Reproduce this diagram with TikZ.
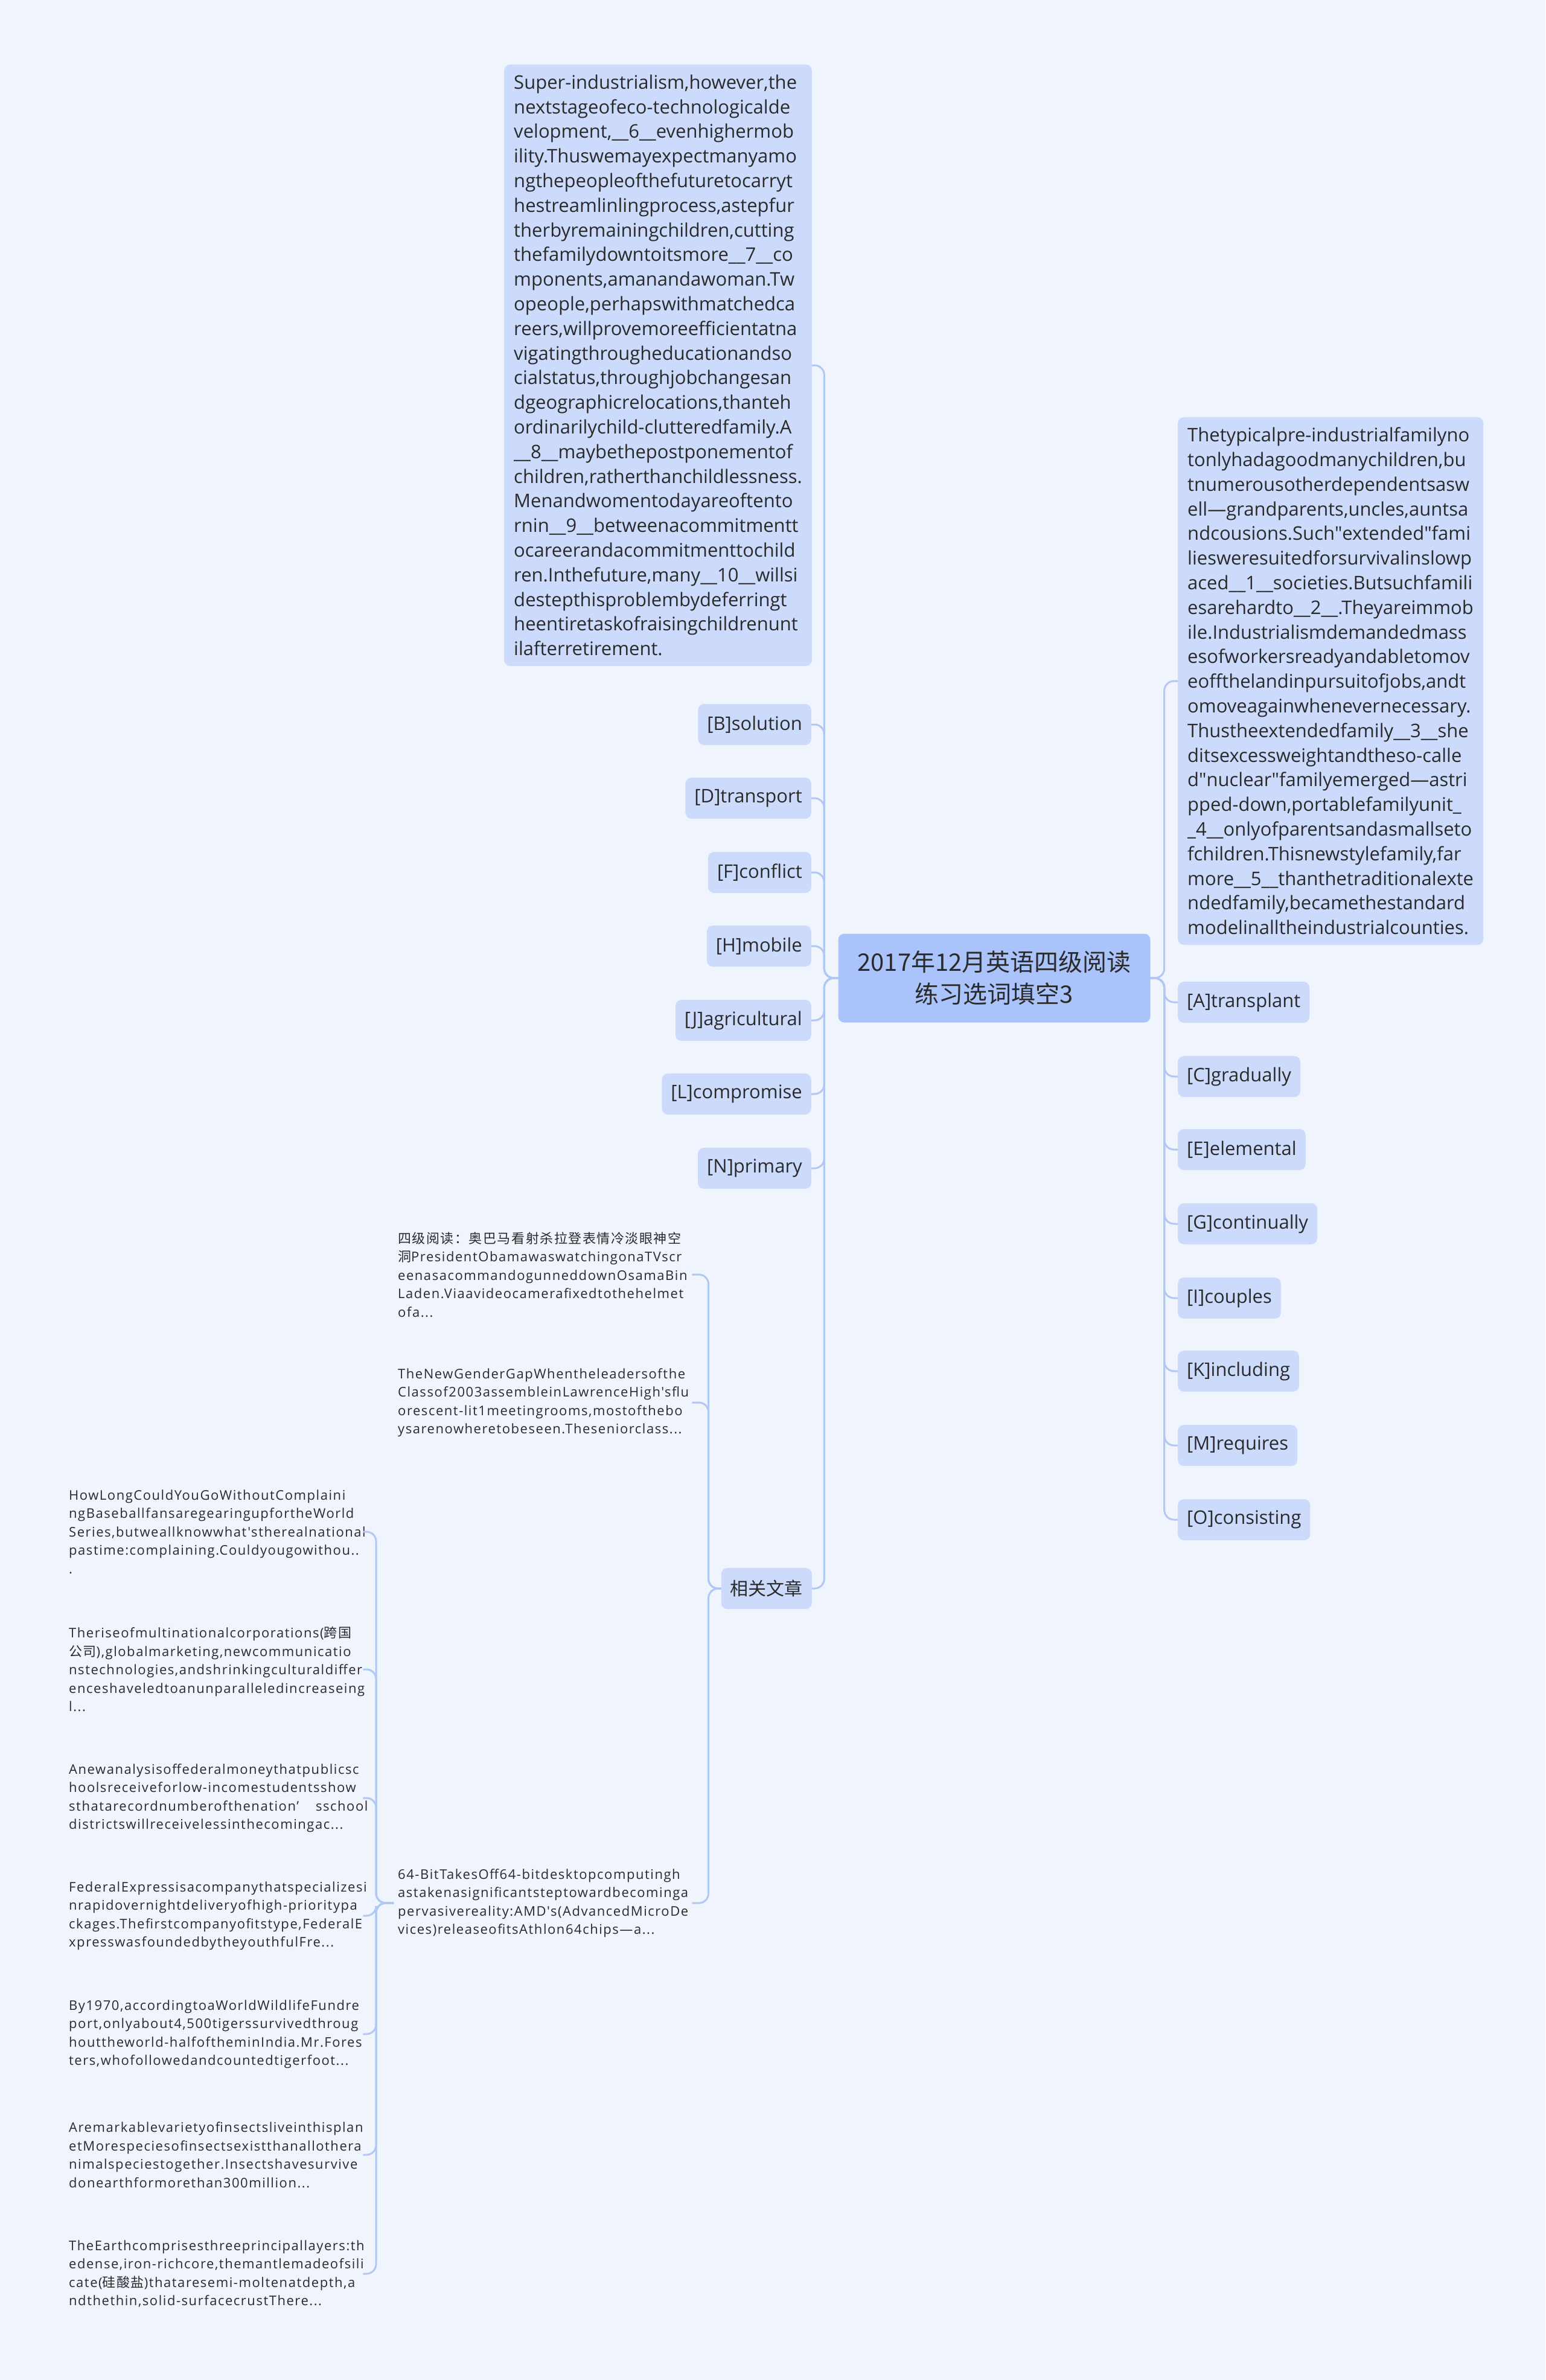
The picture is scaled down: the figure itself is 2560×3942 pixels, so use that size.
\documentclass[tikz,border=0pt]{standalone}
\usepackage{fontspec}
\setmainfont{Open Sans}
\newfontfamily\cjk{Noto Sans CJK SC}
\newfontfamily\artfont[LetterSpace=7]{Open Sans}
\newfontfamily\artcjk[LetterSpace=7]{Noto Sans CJK SC}
\newcommand{\zh}[1]{{\artcjk #1}}
\newcommand{\dq}{\XeTeXglyph\the\XeTeXcharglyph"22\relax}
\usetikzlibrary{positioning}

\definecolor{bgblue}{HTML}{EFF4FD}
\definecolor{rootblue}{HTML}{AAC4FB}
\definecolor{leafblue}{HTML}{CCDBFC}
\definecolor{linkblue}{HTML}{B1C7F4}
\definecolor{inkgray}{HTML}{2A2A2A}

\tikzset{
  root/.style={fill=rootblue, rounded corners=10pt, minimum width=517pt, minimum height=147pt, align=center, text=inkgray, font=\cjk\fontsize{40}{53}\selectfont},
  leaf/.style={fill=leafblue, rounded corners=10pt, inner xsep=15pt, inner ysep=0pt, minimum height=68pt, text=inkgray, font=\fontsize{31}{40}\selectfont},
  passage/.style={fill=leafblue, rounded corners=10pt, inner xsep=16pt, inner ysep=17pt, align=left, text=inkgray, font=\fontsize{31}{40.8}\selectfont},
  article/.style={inner sep=7pt, text width=480pt, align=left, text=inkgray, font=\artfont\fontsize{22}{30.5}\selectfont,
    execute at begin node={\hyphenpenalty=10000\exhyphenpenalty=10000}},
  link/.style={draw=linkblue, line width=3pt, rounded corners=16pt},
}

\begin{document}
\begin{tikzpicture}[x=1pt, y=-1pt]
  % background
  \fill[bgblue] (0,0) rectangle (2560,3942);
  \useasboundingbox (0,0) rectangle (2560,3942);

  % root
  \node[root] (root) at (1647,1620) {2017年12月英语四级阅读\\练习选词填空3};

  % left side
  \node[passage, anchor=east] (later) at (1345,605) {Super-industrialism,however,the\\nextstageofeco-technologicalde\\velopment,\_\_6\_\_evenhighermob\\ility.Thuswemayexpectmanyamo\\ngthepeopleofthefuturetocarryt\\hestreamlinlingprocess,astepfur\\therbyremainingchildren,cutting\\thefamilydowntoitsmore\_\_7\_\_co\\mponents,amanandawoman.Tw\\opeople,perhapswithmatchedca\\reers,willprovemoreefficientatna\\vigatingthrougheducationandso\\cialstatus,throughjobchangesan\\dgeographicrelocations,thanteh\\ordinarilychild-clutteredfamily.A\\\_\_8\_\_maybethepostponementof\\children,ratherthanchildlessness.\\Menandwomentodayareoftento\\rnin\_\_9\_\_betweenacommitmentt\\ocareerandacommitmenttochild\\ren.Inthefuture,many\_\_10\_\_willsi\\destepthisproblembydeferringt\\heentiretaskofraisingchildrenunt\\ilafterretirement.};
  \node[leaf, anchor=east] (optB) at (1344,1200) {[B]solution};
  \node[leaf, anchor=east] (optD) at (1344,1322) {[D]transport};
  \node[leaf, anchor=east] (optF) at (1344,1445) {[F]conflict};
  \node[leaf, anchor=east] (optH) at (1344,1567) {[H]mobile};
  \node[leaf, anchor=east] (optJ) at (1344,1690) {[J]agricultural};
  \node[leaf, anchor=east] (optL) at (1344,1812) {[L]compromise};
  \node[leaf, anchor=east] (optN) at (1344,1935) {[N]primary};
  \node[leaf, anchor=east, font=\cjk\fontsize{30}{36}\selectfont] (related) at (1345,2631) {相关文章};

  \draw[link] (root.west) -- ++(-23,0) |- (later.east);
  \draw[link] (root.west) -- ++(-23,0) |- (optB.east);
  \draw[link] (root.west) -- ++(-23,0) |- (optD.east);
  \draw[link] (root.west) -- ++(-23,0) |- (optF.east);
  \draw[link] (root.west) -- ++(-23,0) |- (optH.east);
  \draw[link] (root.west) -- ++(-23,0) |- (optJ.east);
  \draw[link] (root.west) -- ++(-23,0) |- (optL.east);
  \draw[link] (root.west) -- ++(-23,0) |- (optN.east);
  \draw[link] (root.west) -- ++(-23,0) |- (related.east);

  % right side
  \node[passage, anchor=west] (earlier) at (1951,1128) {Thetypicalpre-industrialfamilyno\\tonlyhadagoodmanychildren,bu\\tnumerousotherdependentsasw\\ell—grandparents,uncles,auntsa\\ndcousions.Such\dq extended\dq fami\\liesweresuitedforsurvivalinslowp\\aced\_\_1\_\_societies.Butsuchfamili\\esarehardto\_\_2\_\_.Theyareimmob\\ile.Industrialismdemandedmass\\esofworkersreadyandabletomov\\eoffthelandinpursuitofjobs,andt\\omoveagainwhenevernecessary.\\Thustheextendedfamily\_\_3\_\_she\\ditsexcessweightandtheso-calle\\d\dq nuclear\dq familyemerged—astri\\pped-down,portablefamilyunit\_\\\_4\_\_onlyofparentsandasmallseto\\fchildren.Thisnewstylefamily,far\\more\_\_5\_\_thanthetraditionalexte\\ndedfamily,becamethestandard\\modelinalltheindustrialcounties.};
  \node[leaf, anchor=west] (optA) at (1951,1660) {[A]transplant};
  \node[leaf, anchor=west] (optC) at (1951,1783) {[C]gradually};
  \node[leaf, anchor=west] (optE) at (1951,1904) {[E]elemental};
  \node[leaf, anchor=west] (optG) at (1951,2027) {[G]continually};
  \node[leaf, anchor=west] (optI) at (1951,2150) {[I]couples};
  \node[leaf, anchor=west] (optK) at (1951,2271) {[K]including};
  \node[leaf, anchor=west] (optM) at (1951,2394) {[M]requires};
  \node[leaf, anchor=west] (optO) at (1951,2517) {[O]consisting};

  \draw[link] (root.east) -- ++(23,0) |- (earlier.west);
  \draw[link] (root.east) -- ++(23,0) |- (optA.west);
  \draw[link] (root.east) -- ++(23,0) |- (optC.west);
  \draw[link] (root.east) -- ++(23,0) |- (optE.west);
  \draw[link] (root.east) -- ++(23,0) |- (optG.west);
  \draw[link] (root.east) -- ++(23,0) |- (optI.west);
  \draw[link] (root.east) -- ++(23,0) |- (optK.west);
  \draw[link] (root.east) -- ++(23,0) |- (optM.west);
  \draw[link] (root.east) -- ++(23,0) |- (optO.west);

  % related articles
  \node[article, anchor=west] (obama) at (652,2111) {\zh{四级阅读：奥巴马看射杀拉登表情冷淡眼神空}\\\zh{洞}PresidentObamawaswatchingonaTVscr\\eenasacommandogunneddownOsamaBin\\Laden.Viaavideocamerafixedtothehelmet\\ofa...};
  \node[article, anchor=west] (gender) at (652,2323) {TheNewGenderGapWhentheleadersofthe\\Classof2003assembleinLawrenceHigh'sflu\\orescent-lit1meetingrooms,mostofthebo\\ysarenowheretobeseen.Theseniorclass...};
  \node[article, anchor=west] (bit64) at (652,3152) {64-BitTakesOff64-bitdesktopcomputingh\\astakenasignificantsteptowardbecominga\\pervasivereality:AMD's(AdvancedMicroDe\\vices)releaseofitsAthlon64chips—a...};

  \draw[link] (related.west) -- ++(-21,0) |- (obama.east);
  \draw[link] (related.west) -- ++(-21,0) |- (gender.east);
  \draw[link] (related.west) -- ++(-21,0) |- (bit64.east);

  % under 64-bit
  \node[article, anchor=west] (complain) at (107,2537) {HowLongCouldYouGoWithoutComplaini\\ngBaseballfansaregearingupfortheWorld\\Series,butweallknowwhat'stherealnational\\pastime:complaining.Couldyougowithou..\\.};
  \node[article, anchor=west] (global) at (107,2765) {Theriseofmultinationalcorporations(\zh{跨国}\\\zh{公司}),globalmarketing,newcommunicatio\\nstechnologies,andshrinkingculturaldiffer\\enceshaveledtoanunparalleledincreaseing\\l...};
  \node[article, anchor=west] (federal) at (107,2978) {Anewanalysisoffederalmoneythatpublicsc\\hoolsreceiveforlow-incomestudentsshow\\sthatarecordnumberofthenation’\kern28pt sschool\\districtswillreceivelessinthecomingac...};
  \node[article, anchor=west] (fedex) at (107,3173) {FederalExpressisacompanythatspecializesi\\nrapidovernightdeliveryofhigh-prioritypa\\ckages.Thefirstcompanyofitstype,FederalE\\xpresswasfoundedbytheyouthfulFre...};
  \node[article, anchor=west] (tigers) at (107,3369) {By1970,accordingtoaWorldWildlifeFundre\\port,onlyabout4,500tigerssurvivedthroug\\houttheworld-halfoftheminIndia.Mr.Fores\\ters,whofollowedandcountedtigerfoot...};
  \node[article, anchor=west] (insects) at (107,3569) {Aremarkablevarietyofinsectsliveinthisplan\\etMorespeciesofinsectsexistthanallothera\\nimalspeciestogether.Insectshavesurvive\\donearthformorethan300million...};
  \node[article, anchor=west] (earth) at (107,3766) {TheEarthcomprisesthreeprincipallayers:th\\edense,iron-richcore,themantlemadeofsili\\cate(\zh{硅酸盐})thataresemi-moltenatdepth,a\\ndthethin,solid-surfacecrustThere...};

  \draw[link] (bit64.west) -- ++(-29,0) |- (complain.east);
  \draw[link] (bit64.west) -- ++(-29,0) |- (global.east);
  \draw[link] (bit64.west) -- ++(-29,0) |- (federal.east);
  \draw[link] (bit64.west) -- ++(-29,0) |- (fedex.east);
  \draw[link] (bit64.west) -- ++(-29,0) |- (tigers.east);
  \draw[link] (bit64.west) -- ++(-29,0) |- (insects.east);
  \draw[link] (bit64.west) -- ++(-29,0) |- (earth.east);
\end{tikzpicture}
\end{document}
